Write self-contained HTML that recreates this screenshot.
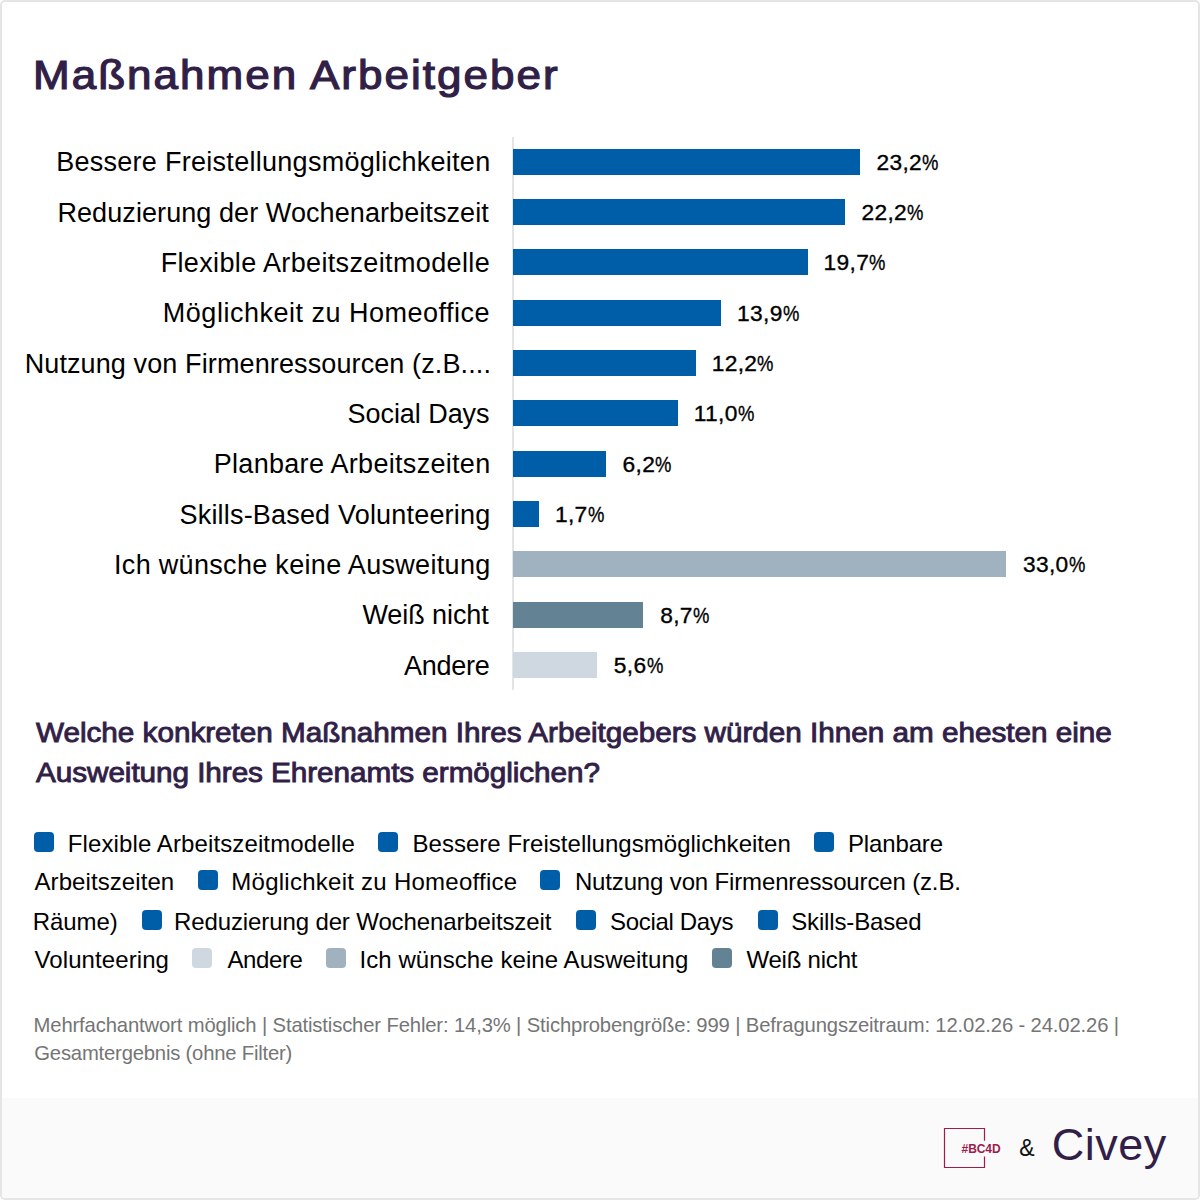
<!DOCTYPE html>
<html lang="de"><head><meta charset="utf-8"><title>Maßnahmen Arbeitgeber</title>
<style>
html,body{margin:0;padding:0;background:#fff;}
body{width:1200px;height:1200px;position:relative;overflow:hidden;font-family:"Liberation Sans", Arial, sans-serif;}
.frame{position:absolute;left:0;top:0;width:1196px;height:1196px;border:2px solid #e4e5e7;border-radius:5px;overflow:hidden;background:#fff;}
.in{position:absolute;left:-2px;top:-2px;width:1200px;height:1200px;}
.t{position:absolute;line-height:1;white-space:nowrap;}
.b{position:absolute;}
.sq{position:absolute;width:20px;height:20px;border-radius:4px;}
.pc{display:inline-block;transform:scaleX(0.81);transform-origin:0 0;}
.foot{position:absolute;left:0;top:1098px;width:1200px;height:102px;background:#fafafa;}
</style></head><body>
<div class="frame"><div class="in">
<div class="b" style="left:512px;top:137px;width:2px;height:553px;background:#e3e4e6;"></div>
<div class="b" style="left:513.4px;top:148.80px;width:346.38px;height:25.8px;background:#005ea8;"></div>
<div class="b" style="left:513.4px;top:199.14px;width:331.45px;height:25.8px;background:#005ea8;"></div>
<div class="b" style="left:513.4px;top:249.47px;width:294.12px;height:25.8px;background:#005ea8;"></div>
<div class="b" style="left:513.4px;top:299.81px;width:207.53px;height:25.8px;background:#005ea8;"></div>
<div class="b" style="left:513.4px;top:350.14px;width:182.15px;height:25.8px;background:#005ea8;"></div>
<div class="b" style="left:513.4px;top:400.48px;width:164.23px;height:25.8px;background:#005ea8;"></div>
<div class="b" style="left:513.4px;top:450.81px;width:92.57px;height:25.8px;background:#005ea8;"></div>
<div class="b" style="left:513.4px;top:501.15px;width:25.38px;height:25.8px;background:#005ea8;"></div>
<div class="b" style="left:513.4px;top:551.48px;width:492.69px;height:25.8px;background:#a0b2c0;"></div>
<div class="b" style="left:513.4px;top:601.82px;width:129.89px;height:25.8px;background:#638294;"></div>
<div class="b" style="left:513.4px;top:652.15px;width:83.61px;height:25.8px;background:#cfd8e0;"></div>
<div class="foot"></div>
<div class="t" style="left:33.25px;top:55.00px;font-size:40px;letter-spacing:1.832px;color:#321f48;-webkit-text-stroke:1.2px #321f48;transform:scaleX(1.1);transform-origin:0 0;">Maßnahmen Arbeitgeber</div>
<div class="t" style="left:56.15px;top:149.30px;font-size:27px;letter-spacing:0.283px;color:#000;">Bessere Freistellungsmöglichkeiten</div>
<div class="t" style="left:876.38px;top:150.70px;font-size:22.75px;letter-spacing:0.350px;color:#000;-webkit-text-stroke:0.35px #000;">23,2<span class="pc">%</span></div>
<div class="t" style="left:57.45px;top:199.64px;font-size:27px;letter-spacing:0.080px;color:#000;">Reduzierung der Wochenarbeitszeit</div>
<div class="t" style="left:861.45px;top:201.04px;font-size:22.75px;letter-spacing:0.350px;color:#000;-webkit-text-stroke:0.35px #000;">22,2<span class="pc">%</span></div>
<div class="t" style="left:160.65px;top:249.97px;font-size:27px;letter-spacing:0.360px;color:#000;">Flexible Arbeitszeitmodelle</div>
<div class="t" style="left:823.62px;top:251.37px;font-size:22.75px;letter-spacing:0.350px;color:#000;-webkit-text-stroke:0.35px #000;">19,7<span class="pc">%</span></div>
<div class="t" style="left:162.85px;top:300.31px;font-size:27px;letter-spacing:0.506px;color:#000;">Möglichkeit zu Homeoffice</div>
<div class="t" style="left:737.03px;top:301.70px;font-size:22.75px;letter-spacing:0.350px;color:#000;-webkit-text-stroke:0.35px #000;">13,9<span class="pc">%</span></div>
<div class="t" style="left:24.65px;top:350.64px;font-size:27px;letter-spacing:0.114px;color:#000;">Nutzung von Firmenressourcen (z.B....</div>
<div class="t" style="left:711.65px;top:352.04px;font-size:22.75px;letter-spacing:0.350px;color:#000;-webkit-text-stroke:0.35px #000;">12,2<span class="pc">%</span></div>
<div class="t" style="left:347.55px;top:400.98px;font-size:27px;letter-spacing:-0.055px;color:#000;">Social Days</div>
<div class="t" style="left:693.73px;top:402.38px;font-size:22.75px;letter-spacing:0.350px;color:#000;-webkit-text-stroke:0.35px #000;">11,0<span class="pc">%</span></div>
<div class="t" style="left:213.75px;top:451.31px;font-size:27px;letter-spacing:0.298px;color:#000;">Planbare Arbeitszeiten</div>
<div class="t" style="left:622.57px;top:452.71px;font-size:22.75px;letter-spacing:0.350px;color:#000;-webkit-text-stroke:0.35px #000;">6,2<span class="pc">%</span></div>
<div class="t" style="left:179.55px;top:501.65px;font-size:27px;letter-spacing:0.185px;color:#000;">Skills-Based Volunteering</div>
<div class="t" style="left:554.88px;top:503.05px;font-size:22.75px;letter-spacing:0.350px;color:#000;-webkit-text-stroke:0.35px #000;">1,7<span class="pc">%</span></div>
<div class="t" style="left:114.00px;top:551.98px;font-size:27px;letter-spacing:0.315px;color:#000;">Ich wünsche keine Ausweitung</div>
<div class="t" style="left:1022.94px;top:553.38px;font-size:22.75px;letter-spacing:0.350px;color:#000;-webkit-text-stroke:0.35px #000;">33,0<span class="pc">%</span></div>
<div class="t" style="left:362.45px;top:602.32px;font-size:27px;letter-spacing:-0.078px;color:#000;">Weiß nicht</div>
<div class="t" style="left:660.14px;top:603.72px;font-size:22.75px;letter-spacing:0.350px;color:#000;-webkit-text-stroke:0.35px #000;">8,7<span class="pc">%</span></div>
<div class="t" style="left:404.00px;top:652.65px;font-size:27px;letter-spacing:-0.250px;color:#000;">Andere</div>
<div class="t" style="left:613.86px;top:654.05px;font-size:22.75px;letter-spacing:0.350px;color:#000;-webkit-text-stroke:0.35px #000;">5,6<span class="pc">%</span></div>
<div class="t" style="left:35.50px;top:719.70px;font-size:27px;letter-spacing:-0.022px;color:#321f48;-webkit-text-stroke:0.9px #321f48;transform:scaleX(1.1);transform-origin:0 0;">Welche konkreten Maßnahmen Ihres Arbeitgebers würden Ihnen am ehesten eine</div>
<div class="t" style="left:35.50px;top:760.00px;font-size:27px;letter-spacing:-0.054px;color:#321f48;-webkit-text-stroke:0.9px #321f48;transform:scaleX(1.1);transform-origin:0 0;">Ausweitung Ihres Ehrenamts ermöglichen?</div>
<div class="t" style="left:67.80px;top:832.00px;font-size:24px;letter-spacing:0.113px;color:#000;">Flexible Arbeitszeitmodelle</div>
<div class="t" style="left:412.50px;top:832.00px;font-size:24px;letter-spacing:0.023px;color:#000;">Bessere Freistellungsmöglichkeiten</div>
<div class="t" style="left:848.00px;top:832.00px;font-size:24px;letter-spacing:-0.143px;color:#000;">Planbare</div>
<div class="t" style="left:34.50px;top:870.00px;font-size:24px;letter-spacing:0.079px;color:#000;">Arbeitszeiten</div>
<div class="t" style="left:231.30px;top:870.00px;font-size:24px;letter-spacing:0.258px;color:#000;">Möglichkeit zu Homeoffice</div>
<div class="t" style="left:574.90px;top:870.00px;font-size:24px;letter-spacing:-0.145px;color:#000;">Nutzung von Firmenressourcen (z.B.</div>
<div class="t" style="left:32.75px;top:909.70px;font-size:24px;letter-spacing:-0.080px;color:#000;">Räume)</div>
<div class="t" style="left:174.10px;top:909.70px;font-size:24px;letter-spacing:-0.120px;color:#000;">Reduzierung der Wochenarbeitszeit</div>
<div class="t" style="left:610.00px;top:909.70px;font-size:24px;letter-spacing:-0.325px;color:#000;">Social Days</div>
<div class="t" style="left:791.25px;top:909.70px;font-size:24px;letter-spacing:-0.159px;color:#000;">Skills-Based</div>
<div class="t" style="left:34.50px;top:947.70px;font-size:24px;letter-spacing:0.091px;color:#000;">Volunteering</div>
<div class="t" style="left:227.50px;top:947.70px;font-size:24px;letter-spacing:-0.410px;color:#000;">Andere</div>
<div class="t" style="left:359.45px;top:947.70px;font-size:24px;letter-spacing:0.074px;color:#000;">Ich wünsche keine Ausweitung</div>
<div class="t" style="left:746.45px;top:947.70px;font-size:24px;letter-spacing:-0.211px;color:#000;">Weiß nicht</div>
<div class="t" style="left:33.55px;top:1014.80px;font-size:20.25px;letter-spacing:-0.144px;color:#757575;">Mehrfachantwort möglich | Statistischer Fehler: 14,3% | Stichprobengröße: 999 | Befragungszeitraum: 12.02.26 - 24.02.26 |</div>
<div class="t" style="left:34.30px;top:1042.70px;font-size:20.25px;letter-spacing:-0.196px;color:#757575;">Gesamtergebnis (ohne Filter)</div>
<div class="t" style="left:961.55px;top:1143.10px;font-size:12px;font-weight:700;letter-spacing:-0.075px;color:#9c1c4d;">#BC4D</div>
<div class="t" style="left:1019.25px;top:1137.00px;font-size:23px;color:#111;">&amp;</div>
<div class="t" style="left:1051.75px;top:1122.00px;font-size:45px;letter-spacing:0.500px;color:#321f48;">Civey</div>
<div class="sq" style="left:34px;top:832px;background:#005ea8;"></div>
<div class="sq" style="left:378px;top:832px;background:#005ea8;"></div>
<div class="sq" style="left:814px;top:832px;background:#005ea8;"></div>
<div class="sq" style="left:198px;top:870px;background:#005ea8;"></div>
<div class="sq" style="left:540px;top:870px;background:#005ea8;"></div>
<div class="sq" style="left:142px;top:910px;background:#005ea8;"></div>
<div class="sq" style="left:576px;top:910px;background:#005ea8;"></div>
<div class="sq" style="left:758px;top:910px;background:#005ea8;"></div>
<div class="sq" style="left:192px;top:948px;background:#cfd8e0;"></div>
<div class="sq" style="left:326px;top:948px;background:#a0b2c0;"></div>
<div class="sq" style="left:712px;top:948px;background:#638294;"></div>
<svg style="position:absolute;left:940px;top:1124px" width="50" height="50" viewBox="940 1124 50 50">
<path d="M984.5 1140.7 V1128.5 H944.5 V1167.5 H984.5 V1156.5" fill="none" stroke="#9c1c4d" stroke-width="1.2"/>
</svg>
</div></div>
</body></html>
